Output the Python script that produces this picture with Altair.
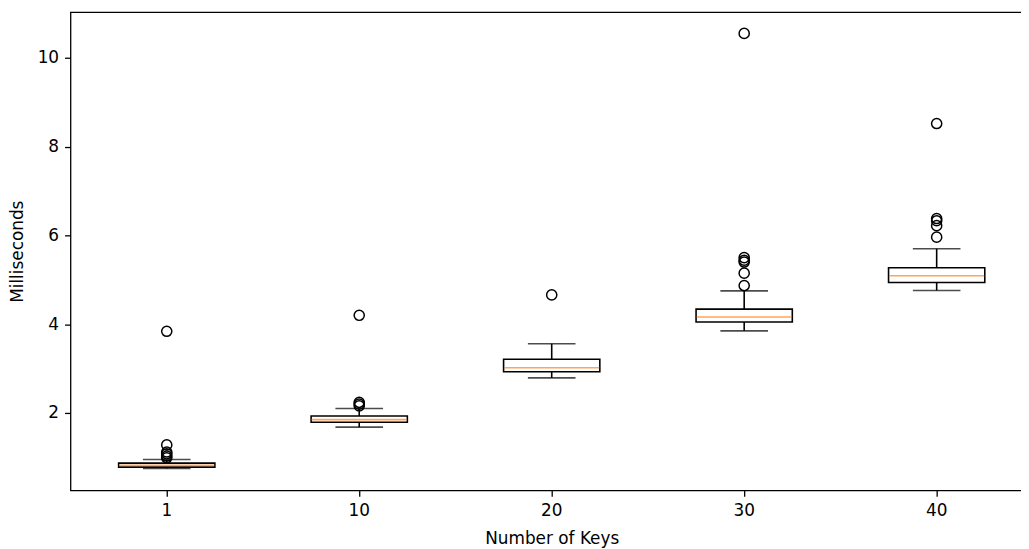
import altair as alt
import pandas as pd

keys = ["1", "10", "20", "30", "40"]
whisker_low = [0.75, 1.68, 2.79, 3.85, 4.76]
q1 = [0.78, 1.79, 2.93, 4.05, 4.94]
median = [0.82, 1.85, 3.02, 4.16, 5.09]
q3 = [0.87, 1.93, 3.21, 4.34, 5.27]
whisker_high = [0.95, 2.10, 3.56, 4.75, 5.70]

outliers = {
    "1": [3.84, 1.28, 1.12, 1.08, 1.03, 0.99],
    "10": [4.20, 2.24, 2.20, 2.16],
    "20": [4.66],
    "30": [10.55, 5.50, 5.44, 5.40, 5.15, 4.87],
    "40": [8.52, 6.38, 6.33, 6.22, 5.96],
}

stats = pd.DataFrame({
    "key": keys, "low": whisker_low, "q1": q1, "median": median,
    "q3": q3, "high": whisker_high,
})
out_df = pd.DataFrame(
    [{"key": k, "value": v} for k in keys for v in outliers[k]]
)

FONT = "DejaVu Sans"
FS = 17
W, H = 970, 482
LW = 1.6

xenc = alt.X(
    "key:N", sort=keys,
    scale=alt.Scale(paddingInner=0.5, paddingOuter=0.25),
    axis=alt.Axis(title="Number of Keys", labelAngle=0, domain=False,
                  ticks=True, tickSize=6, tickColor="black",
                  labelPadding=6, titlePadding=13, grid=False),
)
yscale = alt.Scale(domain=[0.257, 11.03], nice=False, zero=False)
yaxis = alt.Axis(title="Milliseconds", values=[2, 4, 6, 8, 10], domain=False,
                 tickSize=6, tickColor="black", labelPadding=6,
                 titlePadding=11, grid=False)

base = alt.Chart(stats).encode(x=xenc)

wl = base.mark_rule(color="black", strokeWidth=LW).encode(
    y=alt.Y("low:Q", scale=yscale, axis=yaxis), y2="q1:Q")
wh = base.mark_rule(color="black", strokeWidth=LW).encode(
    y=alt.Y("q3:Q", scale=yscale), y2="high:Q")
cap_lo = base.mark_tick(color="black", size=48, thickness=LW).encode(
    y=alt.Y("low:Q", scale=yscale))
cap_hi = base.mark_tick(color="black", size=48, thickness=LW).encode(
    y=alt.Y("high:Q", scale=yscale))
box = base.mark_bar(fill="white", stroke="black", strokeWidth=LW).encode(
    y=alt.Y("q1:Q", scale=yscale), y2="q3:Q")
med = base.mark_tick(color="#ff7f0e", size=96, thickness=LW).encode(
    y=alt.Y("median:Q", scale=yscale))
pts = alt.Chart(out_df).mark_point(
    shape="circle", filled=False, color="black", size=105, strokeWidth=1.5,
    opacity=1).encode(x=xenc, y=alt.Y("value:Q", scale=yscale))

chart = alt.layer(wl, wh, cap_lo, cap_hi, box, med, pts).properties(
    width=W, height=H,
    background="white",
    autosize=alt.AutoSizeParams(type="none"),
    padding={"left": 63, "top": 2, "right": -12, "bottom": 58},
).configure_view(stroke="black", strokeWidth=1.3).configure_axis(
    labelFont=FONT, titleFont=FONT, labelFontSize=FS, titleFontSize=FS,
    labelColor="black", titleColor="black", titleFontWeight="normal",
    tickWidth=1.3,
)

chart.save("out.html", embed_options={"renderer": "svg", "actions": False})
